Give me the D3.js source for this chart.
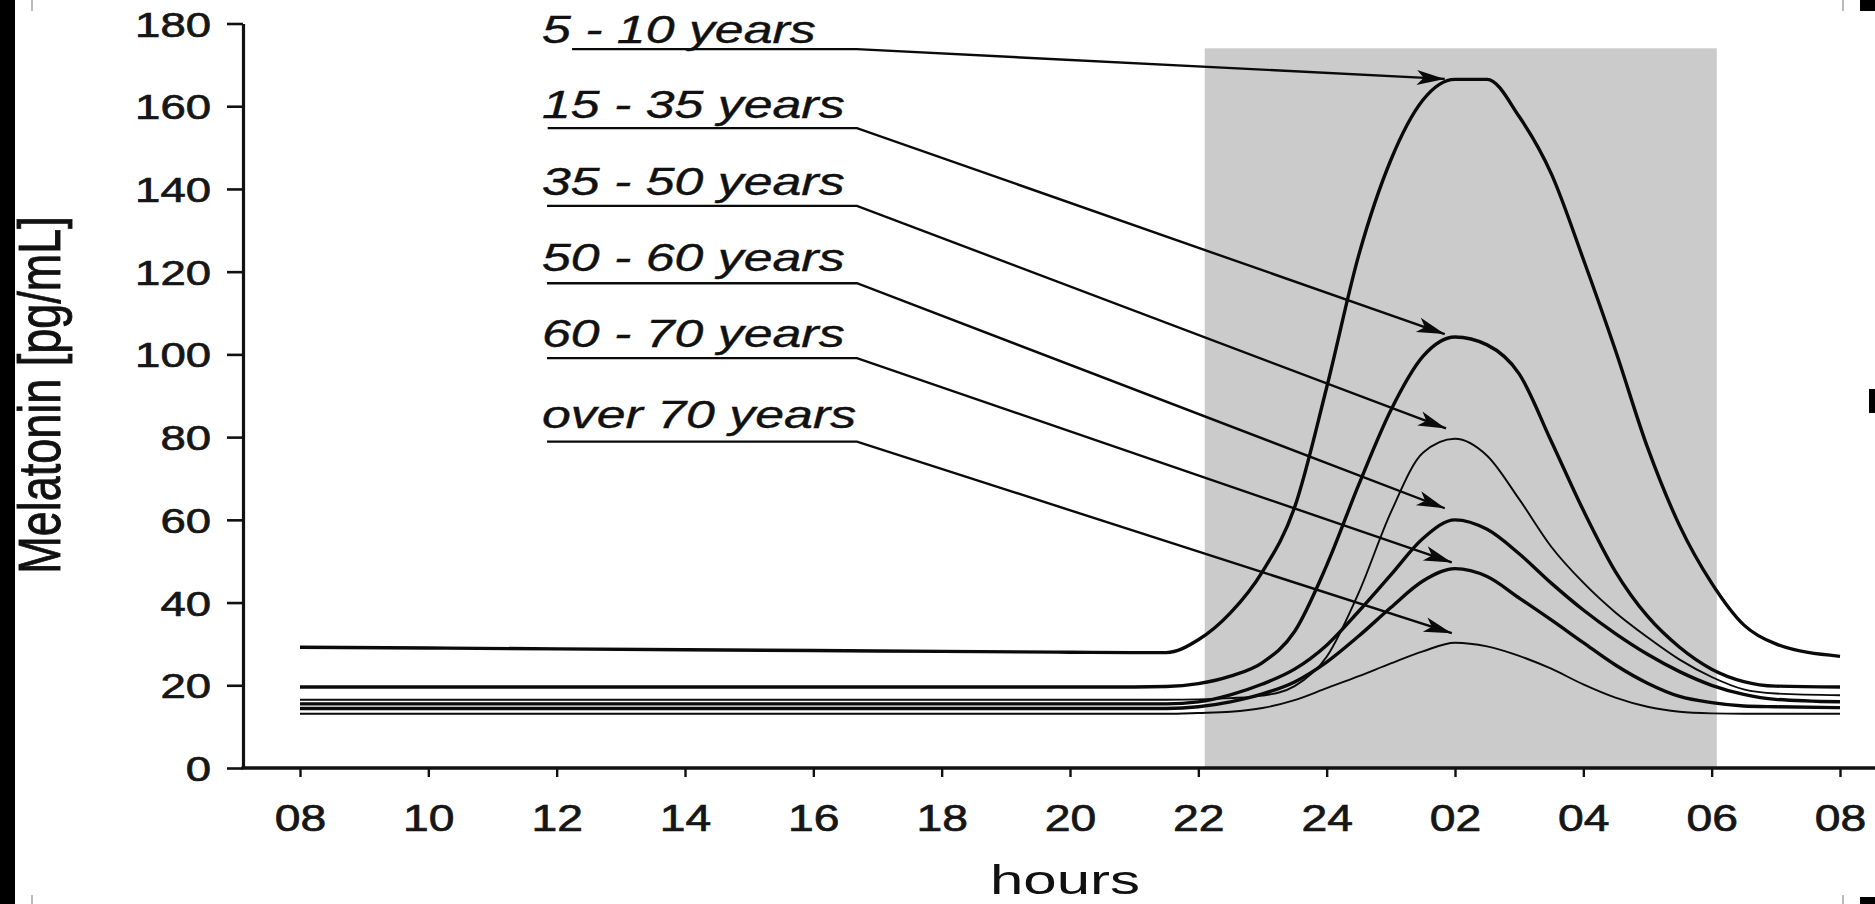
<!DOCTYPE html>
<html><head><meta charset="utf-8">
<script src="https://cdn.jsdelivr.net/npm/d3@7"></script>
<style>html,body{margin:0;padding:0;background:#fff;overflow:hidden}</style>
</head><body>
<svg id="chart" width="1875" height="904"></svg>
<script>
// ---------- data ----------
// hours after 08:00 (0 = 08:00, 24 = 08:00 next day)
const hours = [0,2,4,6,8,10,12,13,13.5,14,14.5,15,15.5,16,16.5,17,17.5,18,18.5,19,19.5,20,20.5,21,21.5,22,22.5,23,24];
const seriesNames = ["5 - 10 years","15 - 35 years","35 - 50 years","50 - 60 years","60 - 70 years","over 70 years"];
const age5to10  = [29.2,29,28.8,28.6,28.4,28.2,28,27.9,27.9, 31,37.5,47.5,63,92,124,147,161.5,166.5,166.5,157.5,143.7,123,101,77.5,58.6,44.7,34.6,30,27];
const age15to35 = [19.6,19.6,19.6,19.6,19.6,19.6,19.6,19.6,19.7, 20.4,22.2,25.5,33,49,68.5,86.5,99.5,104.2,102.3,95.3,79,62.3,47.5,36.7,29.2,23.9,20.9,19.8,19.6];
const age35to50 = [16.5,16.5,16.5,16.5,16.5,16.5,16.5,16.5,16.5, 16.6,16.9,17.5,19.8,26.9,42.4,61.8,76.2,79.6,75.5,65,53.5,44.8,37.6,31.6,26.2,22,19,18,17.6];
const age50to60 = [15.5,15.5,15.5,15.5,15.5,15.5,15.5,15.5,15.5, 16,17.7,20.3,23.9,29.7,37.9,46.7,55.5,60,57.7,51.8,44.7,38.2,32.5,27.5,23.3,20,17.8,16.6,16];
const age60to70 = [14.4,14.4,14.4,14.4,14.4,14.4,14.4,14.4,14.4, 14.8,16,17.9,20.8,25.6,31.9,38.8,45.2,48.2,46.3,41.1,35.8,30.3,24.9,20.5,17.3,15.8,15,14.8,14.6];
const ageOver70 = [13.1,13.1,13.1,13.1,13.1,13.1,13.1,13.1,13.1, 13.3,13.6,14.5,16.4,19.3,22.2,25.3,28.2,30.3,29.4,27.1,24,20.2,17,14.8,13.6,13.2,13.1,13.1,13.1];
const seriesValues = [age5to10, age15to35, age35to50, age50to60, age60to70, ageOver70];
const seriesThick = [true, true, false, true, true, false];

const yTicks = [0,20,40,60,80,100,120,140,160,180];
const xTickHours = [0,2,4,6,8,10,12,14,16,18,20,22,24];
const xTickLabels = ["08","10","12","14","16","18","20","22","24","02","04","06","08"];

// night shading (22:00 - 06:00 as drawn), in hours after 08:00, and its top value
const nightShade = [14.1, 22.08];
const nightShadeTop = 174;

// annotation anchors (hours / pg/mL)
const labelStartH = 3.77;
const labelBaseV = [175.4,157.1,138.5,120.2,101.9,82.1];
const underlineStartH = [4.24,3.86,3.85,3.85,3.85,3.85];
const underlineV = [173.8,154.7,135.9,117.2,99.1,78.9];
const bendH = 8.68;
const arrowTipH = [17.84,17.84,17.86,17.84,17.95,17.95];
const arrowTipV = [166.6,104.9,82.1,62.8,49.7,32.6];

// ---------- drawing ----------
const svg = d3.select("#chart");
const W = 1875, H = 904;
svg.append("rect").attr("width", W).attr("height", H).attr("fill", "#fff");

const x = d3.scaleLinear().domain([0, 24]).range([300, 1840]);
const y = d3.scaleLinear().domain([0, 180]).range([768, 23.5]);
const axisX0 = 243;
const font = "'Liberation Sans', Arial, Helvetica, sans-serif";

// night shade
svg.append("rect")
  .attr("x", x(nightShade[0])).attr("y", y(nightShadeTop))
  .attr("width", x(nightShade[1]) - x(nightShade[0]))
  .attr("height", y(0) - y(nightShadeTop))
  .attr("fill", "#cbcbcb");

// curves
const line = d3.line().x(d => x(d[0])).y(d => y(d[1])).curve(d3.curveMonotoneX);
seriesValues.forEach((vals, i) => {
  svg.append("path")
    .datum(hours.map((h, j) => [h, vals[j]]))
    .attr("d", line)
    .attr("fill", "none")
    .attr("stroke", "#0a0a0a")
    .attr("stroke-width", seriesThick[i] ? 3.4 : 1.9)
    .attr("stroke-linejoin", "round");
});

// arrow marker
svg.append("defs").append("marker")
  .attr("id", "arrow")
  .attr("markerUnits", "userSpaceOnUse")
  .attr("viewBox", "-30 -9 32 18")
  .attr("refX", 0).attr("refY", 0)
  .attr("markerWidth", 32).attr("markerHeight", 18)
  .attr("orient", "auto")
  .append("path")
  .attr("d", "M0,0 L-28,-7.5 L-21,0 L-28,7.5 Z")
  .attr("fill", "#0a0a0a");

// leader lines + labels
const leader = d3.line().x(d => x(d[0])).y(d => y(d[1]));
seriesNames.forEach((name, i) => {
  svg.append("path")
    .attr("d", leader([[underlineStartH[i], underlineV[i]], [bendH, underlineV[i]], [arrowTipH[i], arrowTipV[i]]]))
    .attr("fill", "none")
    .attr("stroke", "#0a0a0a")
    .attr("stroke-width", 2.4)
    .attr("marker-end", "url(#arrow)");
  svg.append("text")
    .attr("transform", `translate(${x(labelStartH)},${y(labelBaseV[i])}) scale(1.33,1)`)
    .attr("font-family", font)
    .attr("font-style", "italic")
    .attr("font-size", 39)
    .attr("fill", "#111")
    .attr("stroke", "#111").attr("stroke-width", 0.4)
    .text(name);
});

// y axis
const gy = svg.append("g")
  .attr("transform", `translate(${axisX0},0)`)
  .call(d3.axisLeft(y).tickValues(yTicks).tickSize(16).tickSizeOuter(0));
gy.select(".domain").attr("stroke", "#111").attr("stroke-width", 3.2);
gy.selectAll(".tick line").attr("stroke", "#111").attr("stroke-width", 2.6);
gy.selectAll(".tick text")
  .attr("x", 0).attr("dy", "0.36em")
  .attr("transform", "translate(-32,0) scale(1.3,1)")
  .attr("font-family", font).attr("font-size", 35).attr("fill", "#161616")
  .attr("stroke", "#161616").attr("stroke-width", 0.7);

// x axis
const gx = svg.append("g")
  .attr("transform", `translate(0,${y(0)})`)
  .call(d3.axisBottom(x).tickValues(xTickHours).tickFormat((d, i) => xTickLabels[i]).tickSize(9).tickSizeOuter(0));
gx.select(".domain").remove();
gx.append("line").attr("x1", axisX0 - 1.6).attr("x2", W).attr("y1", 0).attr("y2", 0)
  .attr("stroke", "#111").attr("stroke-width", 3.6);
gx.selectAll(".tick line").attr("stroke", "#111").attr("stroke-width", 2.4);
gx.selectAll(".tick text")
  .attr("y", 0).attr("dy", 0)
  .attr("transform", "translate(0,63) scale(1.25,1)")
  .attr("font-family", font).attr("font-size", 37).attr("fill", "#161616")
  .attr("stroke", "#161616").attr("stroke-width", 0.7);

// axis titles
svg.append("text")
  .attr("transform", "translate(60,395) rotate(-90) scale(1,1.3)")
  .attr("text-anchor", "middle")
  .attr("font-family", font).attr("font-size", 45).attr("fill", "#111")
  .attr("stroke", "#111").attr("stroke-width", 0.7)
  .text("Melatonin [pg/mL]");
svg.append("text")
  .attr("transform", "translate(1065,894) scale(1.5,1)")
  .attr("text-anchor", "middle")
  .attr("font-family", font).attr("font-size", 40).attr("fill", "#111")
  .text("hours");

// scan frame edges
svg.append("rect").attr("x", 0).attr("y", 0).attr("width", 15).attr("height", H).attr("fill", "#000");
svg.append("rect").attr("x", 1860).attr("y", 0).attr("width", 15).attr("height", 11).attr("fill", "#000");
svg.append("rect").attr("x", 1860).attr("y", 897).attr("width", 15).attr("height", 7).attr("fill", "#000");
svg.append("rect").attr("x", 1869).attr("y", 389).attr("width", 6).attr("height", 24).attr("fill", "#000");
[[31,0,11],[31,895,9],[1842,0,11],[1842,895,9]].forEach(r => {
  svg.append("rect").attr("x", r[0]).attr("y", r[1]).attr("width", 2).attr("height", r[2]).attr("fill", "#bbb");
});
</script>
</body></html>
